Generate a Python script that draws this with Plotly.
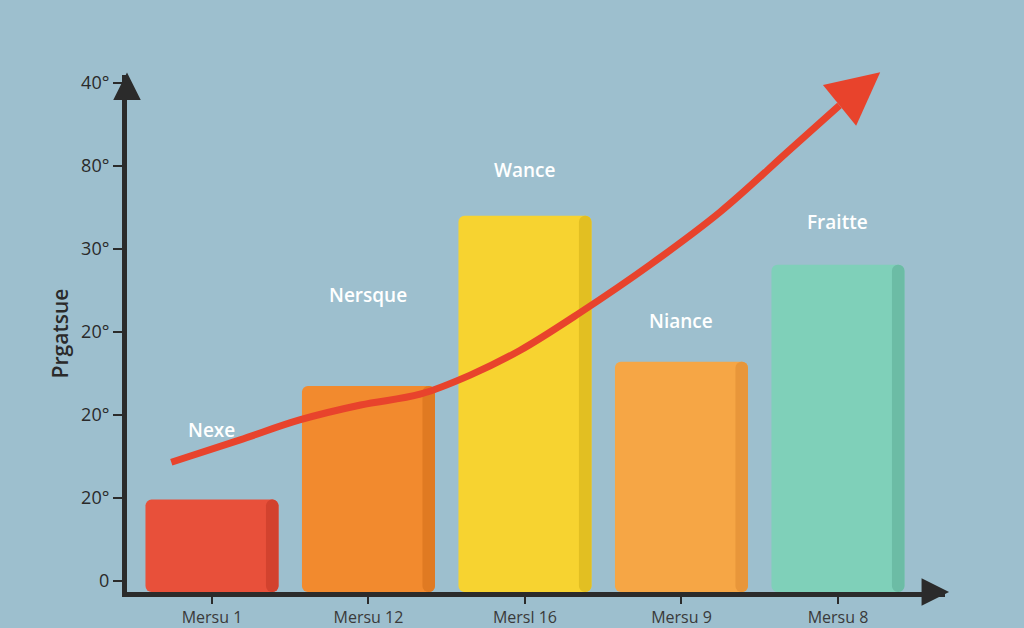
import plotly.graph_objects as go

# ---- data ----
categories = ["Mersu 1", "Mersu 12", "Mersl 16", "Mersu 9", "Mersu 8"]
bar_values = [0.98, 2.35, 4.40, 2.64, 3.81]
bar_labels = ["Nexe", "Nersque", "Wance", "Niance", "Fraitte"]
label_heights = [1.82, 3.45, 4.95, 3.13, 4.33]
bar_colors = ["#e8503a", "#f28a2e", "#f7d330", "#f6a645", "#7fd0b9"]
side_colors = ["#d2422e", "#e07a22", "#e2bf22", "#e8963a", "#6cbca5"]
y_tick_vals = [0, 1, 2, 3, 4, 5, 6]
y_tick_text = ["0", "20°", "20°", "20°", "30°", "80°", "40°"]
trend_x = [-0.26, 0.18, 0.56, 0.95, 1.33, 1.65, 1.97, 2.35, 2.80, 3.25, 3.69, 4.01]
trend_y = [1.43, 1.70, 1.94, 2.12, 2.25, 2.48, 2.78, 3.23, 3.81, 4.45, 5.19, 5.73]
arrow_tip = (4.27, 6.13)
y_title = "Prgatsue"

y_min, y_max = -0.133, 6.096
x_min, x_max = -0.543, 4.684
xs = list(range(len(categories)))
bar_w = 0.85
side_w = 0.08

fig = go.Figure()
fig.add_trace(go.Bar(
    x=xs, y=[v - y_min for v in bar_values], base=y_min, width=bar_w,
    marker=dict(color=bar_colors, line=dict(width=0)), showlegend=False,
))
fig.add_trace(go.Bar(
    x=xs, y=[v - y_min for v in bar_values], base=y_min, width=side_w,
    offset=bar_w / 2 - side_w,
    marker=dict(color=side_colors, line=dict(width=0)), showlegend=False,
))
fig.add_trace(go.Scatter(
    x=trend_x, y=trend_y, mode="lines",
    line=dict(color="#e8432c", width=7, shape="spline", smoothing=1.0),
    cliponaxis=False, showlegend=False, hoverinfo="skip",
))

annotations = []
for xi, lab, ly in zip(xs, bar_labels, label_heights):
    annotations.append(dict(
        x=xi, y=ly, xref="x", yref="y", text=lab, showarrow=False,
        font=dict(family="Open Sans", size=19, color="white", weight=600),
    ))
# trend arrowhead
annotations.append(dict(
    x=arrow_tip[0], y=arrow_tip[1], xref="x", yref="y",
    ax=trend_x[-1], ay=trend_y[-1], axref="x", ayref="y",
    showarrow=True, arrowhead=2, arrowsize=1.5, arrowwidth=7,
    arrowcolor="#e8432c", text="",
))
# axis arrowheads
annotations.append(dict(
    x=0, y=1.005, xref="x domain", yref="y domain", ax=0, ay=20, axref="pixel", ayref="pixel",
    showarrow=True, arrowhead=2, arrowsize=1.1, arrowwidth=5, arrowcolor="#2b2b2b", text="",
))
annotations.append(dict(
    x=1.005, y=0, xref="x domain", yref="y domain", ax=-20, ay=0, axref="pixel", ayref="pixel",
    showarrow=True, arrowhead=2, arrowsize=1.1, arrowwidth=5, arrowcolor="#2b2b2b", text="",
))

bg = "#9dbfce"
fig.update_layout(
    width=1024, height=628,
    margin=dict(l=127, r=79, t=75, b=36),
    paper_bgcolor=bg, plot_bgcolor=bg,
    barmode="overlay", barcornerradius=6,
    font=dict(family="Open Sans", color="#2a2a2a"),
    annotations=annotations,
    xaxis=dict(
        range=[x_min, x_max], tickvals=xs, ticktext=categories, automargin=False,
        showgrid=False, zeroline=False, showline=True, linewidth=5, linecolor="#2b2b2b",
        ticks="outside", ticklen=7, tickwidth=2, tickcolor="#2b2b2b",
        tickfont=dict(size=16, color="#3a3a3a"), ticklabelstandoff=0,
    ),
    yaxis=dict(
        range=[y_min, y_max], tickvals=y_tick_vals, ticktext=y_tick_text, automargin=False,
        showgrid=False, zeroline=False, showline=True, linewidth=5, linecolor="#2b2b2b",
        ticks="outside", ticklen=9, tickwidth=2, tickcolor="#2b2b2b",
        tickfont=dict(size=18, color="#2a2a2a"),
        title=dict(text=y_title, font=dict(size=21, color="#2a2a2a", weight=600), standoff=8),
    ),
)

fig.write_html(
    "out.html",
    config={"displayModeBar": False},
    post_script="document.body.style.margin='0';document.body.style.overflow='hidden';",
)
